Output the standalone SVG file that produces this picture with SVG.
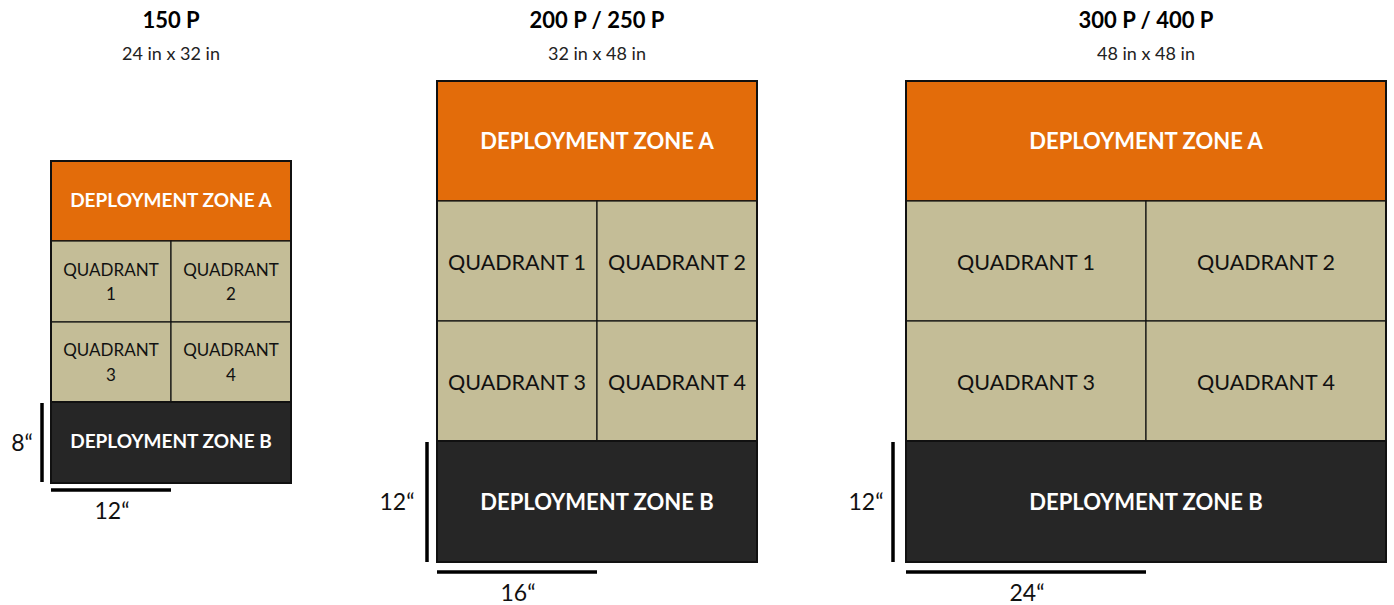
<svg xmlns="http://www.w3.org/2000/svg" width="1394" height="605" viewBox="0 0 1394 605">
<style>
.title{font-family:Lato,"Open Sans","Liberation Sans",sans-serif;font-weight:bold;font-size:22px;fill:#000;text-anchor:middle}
.sub{font-family:Lato,"Open Sans","Liberation Sans",sans-serif;font-size:18px;fill:#222;text-anchor:middle}
.za{fill:#E36C0A;stroke:#111;stroke-width:1.5}
.q{fill:#C4BD97;stroke:#111;stroke-width:1.2}
.zb{fill:#262626;stroke:#111;stroke-width:2}
.zt{font-family:Lato,"Open Sans","Liberation Sans",sans-serif;font-weight:bold;fill:#fff;text-anchor:middle}
.qt{font-family:Lato,"Open Sans","Liberation Sans",sans-serif;fill:#111;text-anchor:middle}
.dim{stroke:#000;stroke-width:3.5;fill:none}
.dt{font-family:Lato,"Open Sans","Liberation Sans",sans-serif;fill:#111;font-size:23px;text-anchor:middle}
.outer{fill:none;stroke:#111;stroke-width:2}
</style>

<g id="board-150">
<text class="title" x="171" y="28">150 P</text>
<text class="sub" x="171" y="60">24 in x 32 in</text>
<rect class="za" x="51" y="161" width="240" height="80"/>
<text class="zt" x="171" y="207" font-size="19">DEPLOYMENT ZONE A</text>
<rect class="q" x="51" y="241" width="120" height="81"/>
<rect class="q" x="171" y="241" width="120" height="81"/>
<rect class="q" x="51" y="322" width="120" height="80"/>
<rect class="q" x="171" y="322" width="120" height="80"/>
<text class="qt" font-size="17"><tspan x="111" y="276">QUADRANT</tspan><tspan x="111" y="300">1</tspan></text>
<text class="qt" font-size="17"><tspan x="231" y="276">QUADRANT</tspan><tspan x="231" y="300">2</tspan></text>
<text class="qt" font-size="17"><tspan x="111" y="356">QUADRANT</tspan><tspan x="111" y="381">3</tspan></text>
<text class="qt" font-size="17"><tspan x="231" y="356">QUADRANT</tspan><tspan x="231" y="381">4</tspan></text>
<rect class="zb" x="51" y="402" width="240" height="81"/>
<text class="zt" x="171" y="448" font-size="19">DEPLOYMENT ZONE B</text>
<rect class="outer" x="51" y="161" width="240" height="322"/>
</g>

<g id="board-200-250">
<text class="title" x="597" y="28">200 P / 250 P</text>
<text class="sub" x="597" y="60">32 in x 48 in</text>
<rect class="za" x="437" y="81" width="320" height="120"/>
<text class="zt" x="597" y="149" font-size="22">DEPLOYMENT ZONE A</text>
<rect class="q" x="437" y="201" width="160" height="120"/>
<rect class="q" x="597" y="201" width="160" height="120"/>
<rect class="q" x="437" y="321" width="160" height="120"/>
<rect class="q" x="597" y="321" width="160" height="120"/>
<text class="qt" font-size="21.5" x="517" y="270">QUADRANT 1</text>
<text class="qt" font-size="21.5" x="677" y="270">QUADRANT 2</text>
<text class="qt" font-size="21.5" x="517" y="390">QUADRANT 3</text>
<text class="qt" font-size="21.5" x="677" y="390">QUADRANT 4</text>
<rect class="zb" x="437" y="441" width="320" height="121"/>
<text class="zt" x="597" y="510" font-size="22">DEPLOYMENT ZONE B</text>
<rect class="outer" x="437" y="81" width="320" height="481"/>
</g>

<g id="board-300-400">
<text class="title" x="1146" y="28">300 P / 400 P</text>
<text class="sub" x="1146" y="60">48 in x 48 in</text>
<rect class="za" x="906" y="81" width="480" height="120"/>
<text class="zt" x="1146" y="149" font-size="22">DEPLOYMENT ZONE A</text>
<rect class="q" x="906" y="201" width="240" height="120"/>
<rect class="q" x="1146" y="201" width="240" height="120"/>
<rect class="q" x="906" y="321" width="240" height="120"/>
<rect class="q" x="1146" y="321" width="240" height="120"/>
<text class="qt" font-size="21.5" x="1026" y="270">QUADRANT 1</text>
<text class="qt" font-size="21.5" x="1266" y="270">QUADRANT 2</text>
<text class="qt" font-size="21.5" x="1026" y="390">QUADRANT 3</text>
<text class="qt" font-size="21.5" x="1266" y="390">QUADRANT 4</text>
<rect class="zb" x="906" y="441" width="480" height="121"/>
<text class="zt" x="1146" y="510" font-size="22">DEPLOYMENT ZONE B</text>
<rect class="outer" x="906" y="81" width="480" height="481"/>
</g>

<g id="dimensions">
<line class="dim" x1="42" y1="403" x2="42" y2="482"/>
<line class="dim" x1="51" y1="490" x2="171" y2="490"/>
<text class="dt" x="22" y="451">8“</text>
<text class="dt" x="112" y="519">12“</text>
<line class="dim" x1="427" y1="442" x2="427" y2="562"/>
<line class="dim" x1="437" y1="572" x2="597" y2="572"/>
<text class="dt" x="397" y="510">12“</text>
<text class="dt" x="518" y="601">16“</text>
<line class="dim" x1="893" y1="442" x2="893" y2="562"/>
<line class="dim" x1="906" y1="572" x2="1146" y2="572"/>
<text class="dt" x="866" y="510">12“</text>
<text class="dt" x="1027" y="601">24“</text>
</g>
</svg>
